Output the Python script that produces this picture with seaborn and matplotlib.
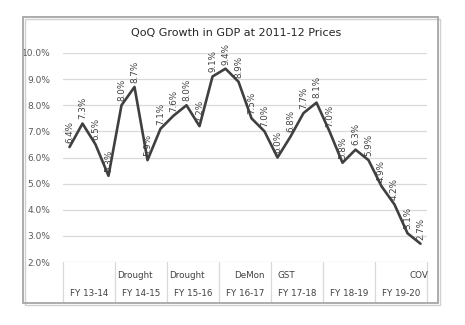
import matplotlib
matplotlib.use("Agg")
import matplotlib.pyplot as plt
import matplotlib.transforms as mtransforms
from matplotlib.patches import Rectangle
import seaborn as sns
import pandas as pd

fiscal_years = ["FY 13-14", "FY 14-15", "FY 15-16", "FY 16-17", "FY 17-18", "FY 18-19", "FY 19-20"]
growth = [6.4, 7.3, 6.5, 5.3,
          8.0, 8.7, 5.9, 7.1,
          7.6, 8.0, 7.2, 9.1,
          9.4, 8.9, 7.5, 7.0,
          6.0, 6.8, 7.7, 8.1,
          7.0, 5.8, 6.3, 5.9,
          4.9, 4.2, 3.1, 2.7]
value_labels = ["6.4%", "7.3%", "6.5%", "5.3%", "8.0%", "8.7%", "5.9%", "7.1%",
                "7.6%", "8.0%", "7.2%", "9.1%", "9.4%", "8.9%", "7.5%", "7.0%",
                "6.0%", "6.8%", "7.7%", "8.1%", "7.0%", "5.8%", "6.3%", "5.9%",
                "4.9%", "4.2%", "3.1%", "2.7%"]
events = ["Drought", "Drought", "DeMon", "GST", "COV"]
event_quarter = [5.0, 9.0, 13.85, 16.7, 26.85]
y_ticks = [2, 3, 4, 5, 6, 7, 8, 9, 10]

df = pd.DataFrame({"q": range(len(growth)), "g": growth})

sns.set_style("white")
plt.rcParams["font.family"] = ["DejaVu Sans"]

W, H = 465, 325
fig = plt.figure(figsize=(W / 100, H / 100), dpi=100)
fig.patch.set_facecolor("white")

def fx(px):
    return px / W

def fy(py):
    return 1 - py / H

ax = fig.add_axes([fx(63), fy(262), fx(427) - fx(63), fy(53) - fy(262)])
ax.set_facecolor("white")

for t in y_ticks:
    ax.axhline(t, color="#d9d9d9", lw=0.9, zorder=0)

sns.lineplot(data=df, x="q", y="g", ax=ax, color="#404040", lw=1.9, zorder=3)

for i, (v, lab) in enumerate(zip(growth, value_labels)):
    ax.annotate(lab, (i, v), xytext=(0, 3), textcoords="offset points",
                rotation=90, ha="center", va="bottom", fontsize=6.3,
                color="#404040", zorder=4)

ax.set_xlim(-0.5, len(growth) - 0.5)
ax.set_ylim(2, 10)
ax.set_yticks(y_ticks)
ax.set_yticklabels([f"{t:.1f}%" for t in y_ticks], fontsize=6.5, color="#595959")
ax.tick_params(axis="y", length=0, pad=9)
ax.set_xticks([])
ax.set_xlabel("")
ax.set_ylabel("")
for s in ax.spines.values():
    s.set_visible(False)

# multi-level category table
trans = mtransforms.blended_transform_factory(ax.transData, ax.transAxes)
bottom_ax = (262 - 302) / (262 - 53)
for k in range(len(fiscal_years) + 1):
    x = -0.5 + 4 * k
    ax.plot([x, x], [0, bottom_ax], transform=trans, color="#d9d9d9", lw=0.9, clip_on=False)
fy_row = (262 - 293) / (262 - 53)
ev_row = (262 - 275) / (262 - 53)
for k, name in enumerate(fiscal_years):
    ax.text(4 * k + 1.5, fy_row, name, transform=trans, ha="center", va="center",
            fontsize=6.3, color="#404040")
for name, pos in zip(events, event_quarter):
    ax.text(pos, ev_row, name, transform=trans, ha="center", va="center",
            fontsize=6.3, color="#404040")

fig.text(fx(236), fy(33), "QoQ Growth in GDP at 2011-12 Prices", ha="center", va="center",
         fontsize=8, color="#262626")

# chart border
fig.patches.append(Rectangle((fx(23), fy(303)), fx(438) - fx(23), fy(17) - fy(303),
                             transform=fig.transFigure, fill=False,
                             edgecolor="#a6a6a6", lw=1.3))
fig.patches.append(Rectangle((fx(25), fy(305)), fx(440) - fx(25), fy(19) - fy(305),
                             transform=fig.transFigure, fill=False,
                             edgecolor="#d0d0d0", lw=1.0, zorder=-1))

fig.savefig("out.png", dpi=100)
